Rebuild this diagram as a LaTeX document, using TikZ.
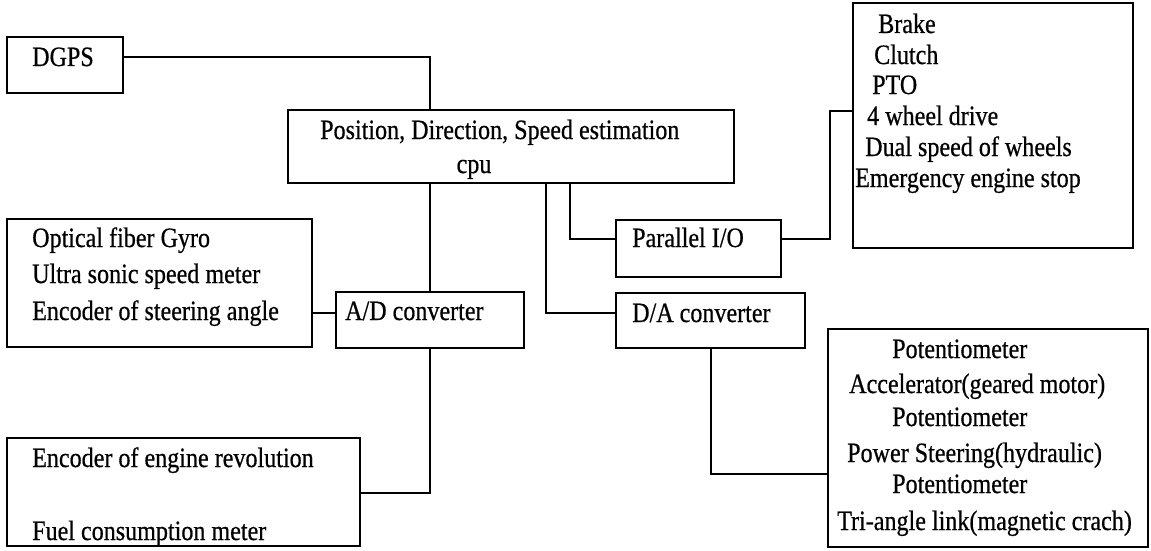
\documentclass[tikz,border=0pt]{standalone}
\usepackage{fontspec}
\setmainfont{Liberation Serif}[FakeStretch=0.86, FakeBold=0.6]
\usetikzlibrary{fit}

\tikzset{
  blk/.style={draw, line width=1.1pt, inner sep=0pt},
  txt/.style={anchor=base west, inner sep=0pt},
  link/.style={draw, line width=1.1pt},
}

\begin{document}
\begin{tikzpicture}[x=1pt, y=-1pt, font=\fontsize{28}{34}\selectfont]
  \useasboundingbox (0,0) rectangle (1151,551);

  % boxes
  \node[blk, fit={(7,37) (123,93)}] (dgps) {};
  \node[blk, fit={(288,110) (734,183)}] (cpu) {};
  \node[blk, fit={(7,219) (312,347)}] (sensors) {};
  \node[blk, fit={(336,292) (524,348)}] (adc) {};
  \node[blk, fit={(616,220) (781,277)}] (pio) {};
  \node[blk, fit={(616,293) (805,348)}] (dac) {};
  \node[blk, fit={(7,438) (360,546)}] (engine) {};
  \node[blk, fit={(853,3) (1133,248)}] (sw) {};
  \node[blk, fit={(828,329) (1148,547)}] (act) {};

  % labels
  \node[txt] (dgpsl) at (32,66) {DGPS};
  \node[txt] (cpul1) at (320,139) {Position, Direction, Speed estimation};
  \node[anchor=base, inner sep=0pt] (cpul2) at (474,173) {cpu};
  \node[txt] (pjol) at (632,247) {Parallel I/O};
  \node[txt] (adcl) at (345,320) {A/D converter};
  \node[txt] (dacl) at (632,322) {D/A converter};
  \foreach \i/\y/\t in {1/247/Optical fiber Gyro, 2/283/Ultra sonic speed meter,
                        3/320/Encoder of steering angle}
    \node[txt] (sensl\i) at (32,\y) {\t};
  \node[txt] (engl1) at (32,467) {Encoder of engine revolution};
  \node[txt] (engl2) at (32,540) {Fuel consumption meter};
  \foreach \i/\x/\y/\t in {1/878/33/Brake, 2/874/64/Clutch, 3/872/94/PTO,
                           4/867/125/4 wheel drive, 5/865/156/Dual speed of wheels,
                           6/855/187/Emergency engine stop}
    \node[txt] (swl\i) at (\x,\y) {\t};
  \foreach \i/\x/\y/\t in {1/892/358/Potentiometer, 2/849/393/Accelerator(geared motor),
                           3/892/426/Potentiometer, 4/847/462/Power Steering(hydraulic),
                           5/892/493/Potentiometer, 6/837/530/Tri-angle link(magnetic crach)}
    \node[txt] (actl\i) at (\x,\y) {\t};

  % bends of the wiring
  \coordinate (gpsrow) at (0,57);
  \coordinate (piotap) at (570,239);
  \coordinate (dactap) at (546,313);
  \coordinate (adrow) at (0,313);
  \coordinate (swcol) at (830,111);
  \coordinate (engrow) at (0,493);
  \coordinate (acttap) at (711,474);

  \draw[link] (dgps.east |- gpsrow) -| (adc.north |- cpu.north);
  \draw[link] (adc.north |- cpu.south) -- (adc.north);
  \draw[link] (piotap |- cpu.south) |- (pio.west |- piotap);
  \draw[link] (dactap |- cpu.south) |- (dac.west |- dactap);
  \draw[link] (pio.east |- piotap) -| (swcol) -- (sw.west |- swcol);
  \draw[link] (sensors.east |- adrow) -- (adc.west |- adrow);
  \draw[link] (adc.south) |- (engine.east |- engrow);
  \draw[link] (acttap |- dac.south) |- (act.west |- acttap);
\end{tikzpicture}
\end{document}
